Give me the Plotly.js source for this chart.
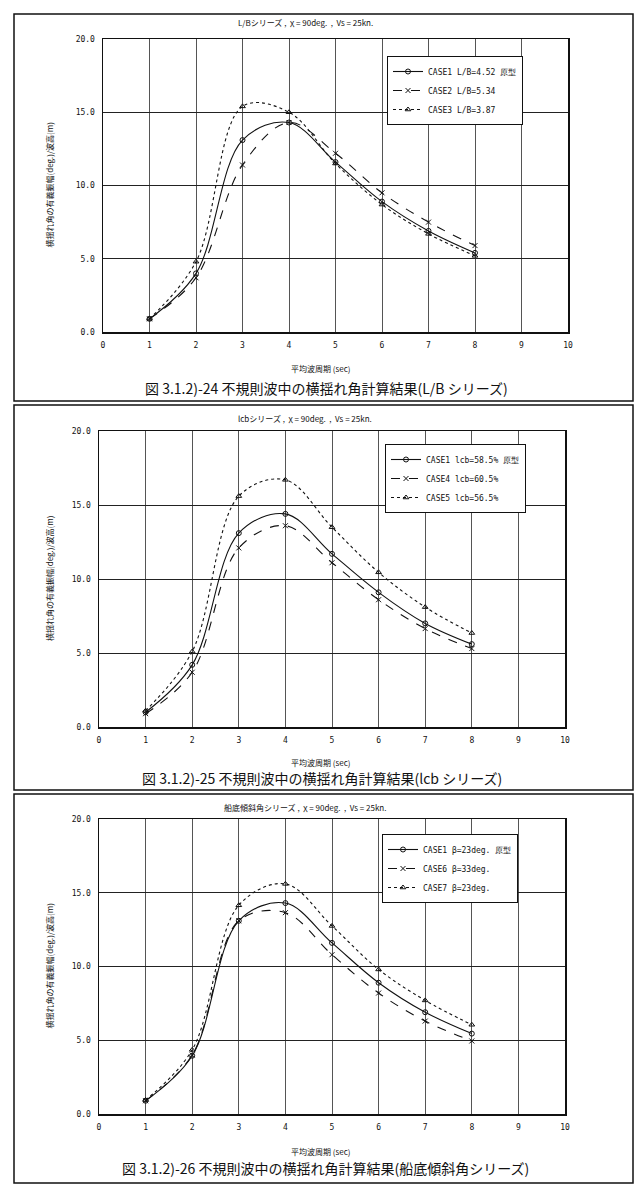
<!DOCTYPE html>
<html><head><meta charset="utf-8">
<script src="https://cdn.plot.ly/plotly-3.0.1.min.js"></script>
<style>html,body{margin:0;padding:0;background:#fff}#c{width:643px;height:1186px}</style>
</head><body><div id="c"></div>
<script>
// ---- data ----
const periods = [1, 2, 3, 4, 5, 6, 7, 8];
const xTicks = [0, 1, 2, 3, 4, 5, 6, 7, 8, 9, 10];
const yTicks = [0, 5, 10, 15, 20];

const lbNames = ['CASE1 L/B=4.52 原型', 'CASE2 L/B=5.34', 'CASE3 L/B=3.87'];
const lbCase1 = [0.9, 4.0, 13.1, 14.3, 11.6, 8.9, 6.9, 5.4];
const lbCase2 = [0.9, 3.7, 11.4, 14.3, 12.2, 9.5, 7.5, 5.9];
const lbCase3 = [0.9, 4.8, 15.4, 15.0, 11.5, 8.7, 6.7, 5.2];

const lcbNames = ['CASE1 lcb=58.5% 原型', 'CASE4 lcb=60.5%', 'CASE5 lcb=56.5%'];
const lcbCase1 = [1.0, 4.2, 13.1, 14.4, 11.7, 9.1, 7.0, 5.6];
const lcbCase4 = [0.9, 3.7, 12.1, 13.6, 11.1, 8.6, 6.65, 5.3];
const lcbCase5 = [1.1, 5.1, 15.6, 16.7, 13.5, 10.45, 8.1, 6.35];

const betaNames = ['CASE1 β=23deg. 原型', 'CASE6 β=33deg.', 'CASE7 β=23deg.'];
const betaCase1 = [0.9, 3.95, 13.1, 14.3, 11.6, 8.9, 6.9, 5.45];
const betaCase6 = [0.9, 4.0, 13.1, 13.65, 10.8, 8.2, 6.3, 4.95];
const betaCase7 = [0.95, 4.35, 14.15, 15.6, 12.75, 9.8, 7.7, 6.05];

const panelTitles = ['L/Bシリーズ ,  χ = 90deg.  ,  Vs = 25kn.', 'lcbシリーズ ,  χ = 90deg.  ,  Vs = 25kn.', '船底傾斜角シリーズ ,  χ = 90deg.  ,  Vs = 25kn.'];
const captions = ['図 3.1.2)-24 不規則波中の横揺れ角計算結果(L/B シリーズ)', '図 3.1.2)-25 不規則波中の横揺れ角計算結果(lcb シリーズ)', '図 3.1.2)-26 不規則波中の横揺れ角計算結果(船底傾斜角シリーズ)'];
const xTitle = '平均波周期 (sec)';
const yTitle = '横揺れ角の有義振幅(deg.)/波高(m)';

// ---- layout helpers ----
const W = 643, H = 1186;
const px = v => v / W, py = v => 1 - v / H;
const styles = [
  {dash: 'solid', symbol: 'circle-open'},
  {dash: 'dash', symbol: 'x-thin-open'},
  {dash: 'dot', symbol: 'triangle-up-open'}
];
const panels = [
  {names: lbNames, ys: [lbCase1, lbCase2, lbCase3], x0: 103, x1: 568, yTop: 39, yBot: 332, frame: [14, 401], title: 22, xt: 368, cap: 388, leg: [387, 56], capX: 326},
  {names: lcbNames, ys: [lcbCase1, lcbCase4, lcbCase5], x0: 99, x1: 565, yTop: 431, yBot: 727, frame: [405, 790], title: 418, xt: 762, cap: 778, leg: [385, 444], capX: 322},
  {names: betaNames, ys: [betaCase1, betaCase6, betaCase7], x0: 99, x1: 565, yTop: 819, yBot: 1114, frame: [794, 1183], title: 807, xt: 1151, cap: 1168, leg: [382, 834], capX: 325}
];

const traces = [];
const layout = {
  width: W, height: H, margin: {l: 0, r: 0, t: 0, b: 0},
  paper_bgcolor: 'white', plot_bgcolor: 'white',
  font: {family: 'DejaVu Sans Mono', color: '#111'},
  shapes: [], annotations: []
};
const fontTick = {family: 'DejaVu Sans Mono', size: 8, color: '#111'};

panels.forEach((p, i) => {
  const n = i + 1;
  const xa = 'xaxis' + (n === 1 ? '' : n), ya = 'yaxis' + (n === 1 ? '' : n);
  const xr = 'x' + (n === 1 ? '' : n), yr = 'y' + (n === 1 ? '' : n);
  const lg = 'legend' + (n === 1 ? '' : n);
  layout[xa] = {
    domain: [px(p.x0), px(p.x1)], anchor: yr, range: [0, 10],
    tickvals: xTicks, ticktext: xTicks.map(String), ticks: '', ticklabelstandoff: 5,
    showline: true, mirror: true, linecolor: '#111', linewidth: 1.5,
    showgrid: true, gridcolor: '#555', gridwidth: 1, zeroline: false,
    tickfont: fontTick, fixedrange: true
  };
  layout[ya] = {
    domain: [py(p.yBot), py(p.yTop)], anchor: xr, range: [0, 20],
    tickvals: yTicks, ticktext: yTicks.map(v => v.toFixed(1)), ticks: '', ticklabelstandoff: 5,
    showline: true, mirror: true, linecolor: '#111', linewidth: 1.5,
    showgrid: true, gridcolor: '#222', gridwidth: 1, zeroline: false,
    tickfont: fontTick, fixedrange: true
  };
  layout[lg] = {
    x: px(p.leg[0]), y: py(p.leg[1]), xanchor: 'left', yanchor: 'top',
    bgcolor: 'white', bordercolor: '#111', borderwidth: 1,
    font: {family: 'DejaVu Sans Mono', size: 8, color: '#111'},
    tracegroupgap: 0, itemwidth: 30
  };
  p.ys.forEach((ys, k) => {
    traces.push({
      x: periods, y: ys, name: p.names[k], xaxis: xr, yaxis: yr, legend: lg,
      type: 'scatter', mode: 'lines+markers',
      line: {color: '#111', width: 1.1, dash: styles[k].dash, shape: 'spline', smoothing: 1},
      marker: {symbol: styles[k].symbol, size: 5, color: '#111', line: {width: 1, color: '#111'}}
    });
  });
  layout.shapes.push({type: 'rect', xref: 'paper', yref: 'paper',
    x0: px(14), x1: px(633), y0: py(p.frame[1]), y1: py(p.frame[0]),
    line: {color: '#111', width: 1.5}});
  layout.annotations.push(
    {xref: 'paper', yref: 'paper', x: px(305), y: py(p.title), text: panelTitles[i], showarrow: false,
     font: {family: 'Noto Sans CJK JP', size: 8, color: '#111'}, xanchor: 'center', yanchor: 'middle'},
    {xref: 'paper', yref: 'paper', x: px(320), y: py(p.xt), text: xTitle, showarrow: false,
     font: {family: 'Noto Sans CJK JP', size: 8, color: '#111'}, xanchor: 'center', yanchor: 'middle'},
    {xref: 'paper', yref: 'paper', x: px(p.capX), y: py(p.cap), text: captions[i], showarrow: false,
     font: {family: 'Noto Sans CJK JP', size: 14, color: '#111'}, xanchor: 'center', yanchor: 'middle'},
    {xref: 'paper', yref: 'paper', x: px(49), y: py((p.yTop + p.yBot) / 2), text: yTitle, showarrow: false, textangle: -90,
     font: {family: 'Noto Sans CJK JP', size: 8, color: '#111'}, xanchor: 'center', yanchor: 'middle'}
  );
});

Plotly.newPlot('c', traces, layout, {displayModeBar: false, staticPlot: true});
</script></body></html>
